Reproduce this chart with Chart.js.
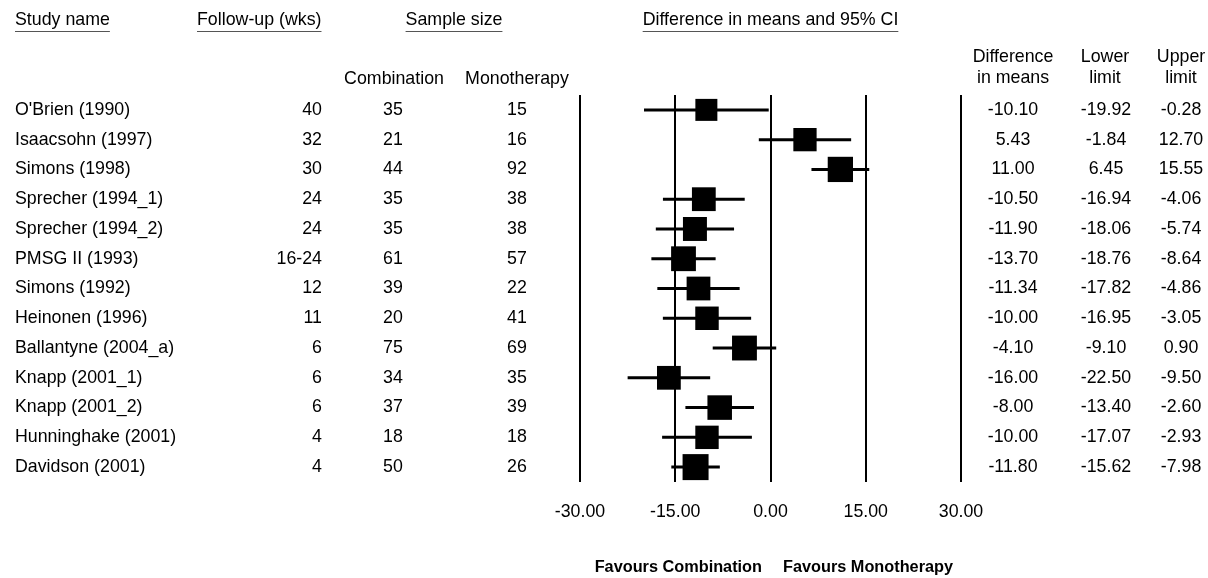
<!DOCTYPE html>
<html>
<head>
<meta charset="utf-8">
<title>Forest plot</title>
<script src="https://cdn.jsdelivr.net/npm/chart.js@4.4.1/dist/chart.umd.min.js"></script>
<style>
  body { margin: 0; background: #fff; }
  #wrap { width: 1208px; height: 578px; }
</style>
</head>
<body>
<div id="wrap"><canvas id="forest" width="1208" height="578"></canvas></div>
<script>
const studies = ["O'Brien (1990)", 'Isaacsohn (1997)', 'Simons (1998)', 'Sprecher (1994_1)', 'Sprecher (1994_2)',
    'PMSG II (1993)', 'Simons (1992)', 'Heinonen (1996)', 'Ballantyne (2004_a)', 'Knapp (2001_1)',
    'Knapp (2001_2)', 'Hunninghake (2001)', 'Davidson (2001)']
const followUp = ['40', '32', '30', '24', '24', '16-24', '12', '11', '6', '6', '6', '4', '4']
const nCombination = [35, 21, 44, 35, 35, 61, 39, 20, 75, 34, 37, 18, 50]
const nMonotherapy = [15, 16, 92, 38, 38, 57, 22, 41, 69, 35, 39, 18, 26]
const diffMeans = [-10.10, 5.43, 11.00, -10.50, -11.90, -13.70, -11.34, -10.00, -4.10, -16.00, -8.00, -10.00, -11.80]
const lowerLimit = [-19.92, -1.84, 6.45, -16.94, -18.06, -18.76, -17.82, -16.95, -9.10, -22.50, -13.40, -17.07, -15.62]
const upperLimit = [-0.28, 12.70, 15.55, -4.06, -5.74, -8.64, -4.86, -3.05, 0.90, -9.50, -2.60, -2.93, -7.98]
const xTicks = [-30, -15, 0, 15, 30]

const FONT = "'Liberation Sans', Arial, sans-serif"
const REG = '17.8px ' + FONT

// box size follows the inverse-variance weight (log scaled, like CMA's narrow range)
let logW = lowerLimit.map((lo, i) => {
    let se = (upperLimit[i] - lo) / (2 * 1.96)
    return Math.log(1 / (se * se))
})
let minW = Math.min(...logW), maxW = Math.max(...logW)
let boxRadius = logW.map(w => (22 + 4 * (w - minW) / (maxW - minW)) / (2 * Math.SQRT1_2))

const ciSets = studies.map((s, i) => ({
    type: 'line',
    data: [{x: lowerLimit[i], y: i}, {x: upperLimit[i], y: i}],
    borderColor: '#000',
    borderWidth: 3,
    pointRadius: 0,
    clip: false
}))

const boxSet = {
    type: 'scatter',
    data: diffMeans.map((d, i) => ({x: d, y: i})),
    pointStyle: 'rect',
    pointRadius: boxRadius,
    backgroundColor: '#000',
    borderWidth: 0,
    clip: false
}

let text = (ctx, str, x, y, align, font) => {
    ctx.font = font || REG
    ctx.textAlign = align
    ctx.textBaseline = 'middle'
    ctx.fillText(str, x, y)
}

let underline = (ctx, str, x, y, align) => {
    ctx.font = REG
    let w = ctx.measureText(str).width
    let x0 = align === 'center' ? x - w / 2 : (align === 'right' ? x - w : x)
    ctx.fillRect(x0, y, w, 1)
}

const tablePlugin = {
    id: 'table',
    beforeDatasetsDraw(chart) {
        const {ctx, chartArea, scales} = chart
        ctx.save()
        ctx.strokeStyle = '#000'
        ctx.lineWidth = 2
        xTicks.forEach(t => {
            let px = Math.round(scales.x.getPixelForValue(t))
            ctx.beginPath()
            ctx.moveTo(px, chartArea.top)
            ctx.lineTo(px, chartArea.bottom)
            ctx.stroke()
        })
        ctx.restore()
    },
    afterDraw(chart) {
        const {ctx, chartArea, scales} = chart
        ctx.save()
        ctx.fillStyle = '#000'

        // column headings
        let heads = [['Study name', 15, 'left'], ['Follow-up (wks)', 197, 'left'],
            ['Sample size', 454, 'center'], ['Difference in means and 95% CI', scales.x.getPixelForValue(0), 'center']]
        heads.forEach(h => {
            text(ctx, h[0], h[1], 20, h[2])
            ctx.fillStyle = '#555'
            underline(ctx, h[0], h[1], 31, h[2])
            ctx.fillStyle = '#000'
        })
        text(ctx, 'Combination', 394, 79, 'center')
        text(ctx, 'Monotherapy', 517, 79, 'center')
        text(ctx, 'Difference', 1013, 57, 'center')
        text(ctx, 'in means', 1013, 78, 'center')
        text(ctx, 'Lower', 1105, 57, 'center')
        text(ctx, 'limit', 1105, 78, 'center')
        text(ctx, 'Upper', 1181, 57, 'center')
        text(ctx, 'limit', 1181, 78, 'center')

        // rows
        studies.forEach((s, i) => {
            let y = scales.y.getPixelForValue(i)
            text(ctx, s, 15, y, 'left')
            text(ctx, followUp[i], 322, y, 'right')
            text(ctx, String(nCombination[i]), 393, y, 'center')
            text(ctx, String(nMonotherapy[i]), 517, y, 'center')
            text(ctx, diffMeans[i].toFixed(2), 1013, y, 'center')
            text(ctx, lowerLimit[i].toFixed(2), 1106, y, 'center')
            text(ctx, upperLimit[i].toFixed(2), 1181, y, 'center')
        })

        // axis labels
        xTicks.forEach(t => {
            text(ctx, t.toFixed(2), scales.x.getPixelForValue(t), chartArea.bottom + 30, 'center')
        })
        text(ctx, 'Favours Combination', 762, 568, 'right', 'bold 16.3px ' + FONT)
        text(ctx, 'Favours Monotherapy', 783, 568, 'left', 'bold 16.3px ' + FONT)
        ctx.restore()
    }
}

const config = {
    type: 'scatter',
    data: {datasets: [...ciSets, boxSet]},
    options: {
        responsive: false,
        animation: false,
        events: [],
        layout: {padding: {left: 580, right: 247, top: 95, bottom: 96}},
        scales: {
            x: {type: 'linear', min: -30, max: 30, display: false},
            y: {type: 'linear', min: -0.5, max: 12.5, reverse: true, display: false}
        },
        plugins: {legend: {display: false}, tooltip: {enabled: false}}
    },
    plugins: [tablePlugin]
}

const chart = new Chart(document.getElementById('forest'), config)
</script>
</body>
</html>
